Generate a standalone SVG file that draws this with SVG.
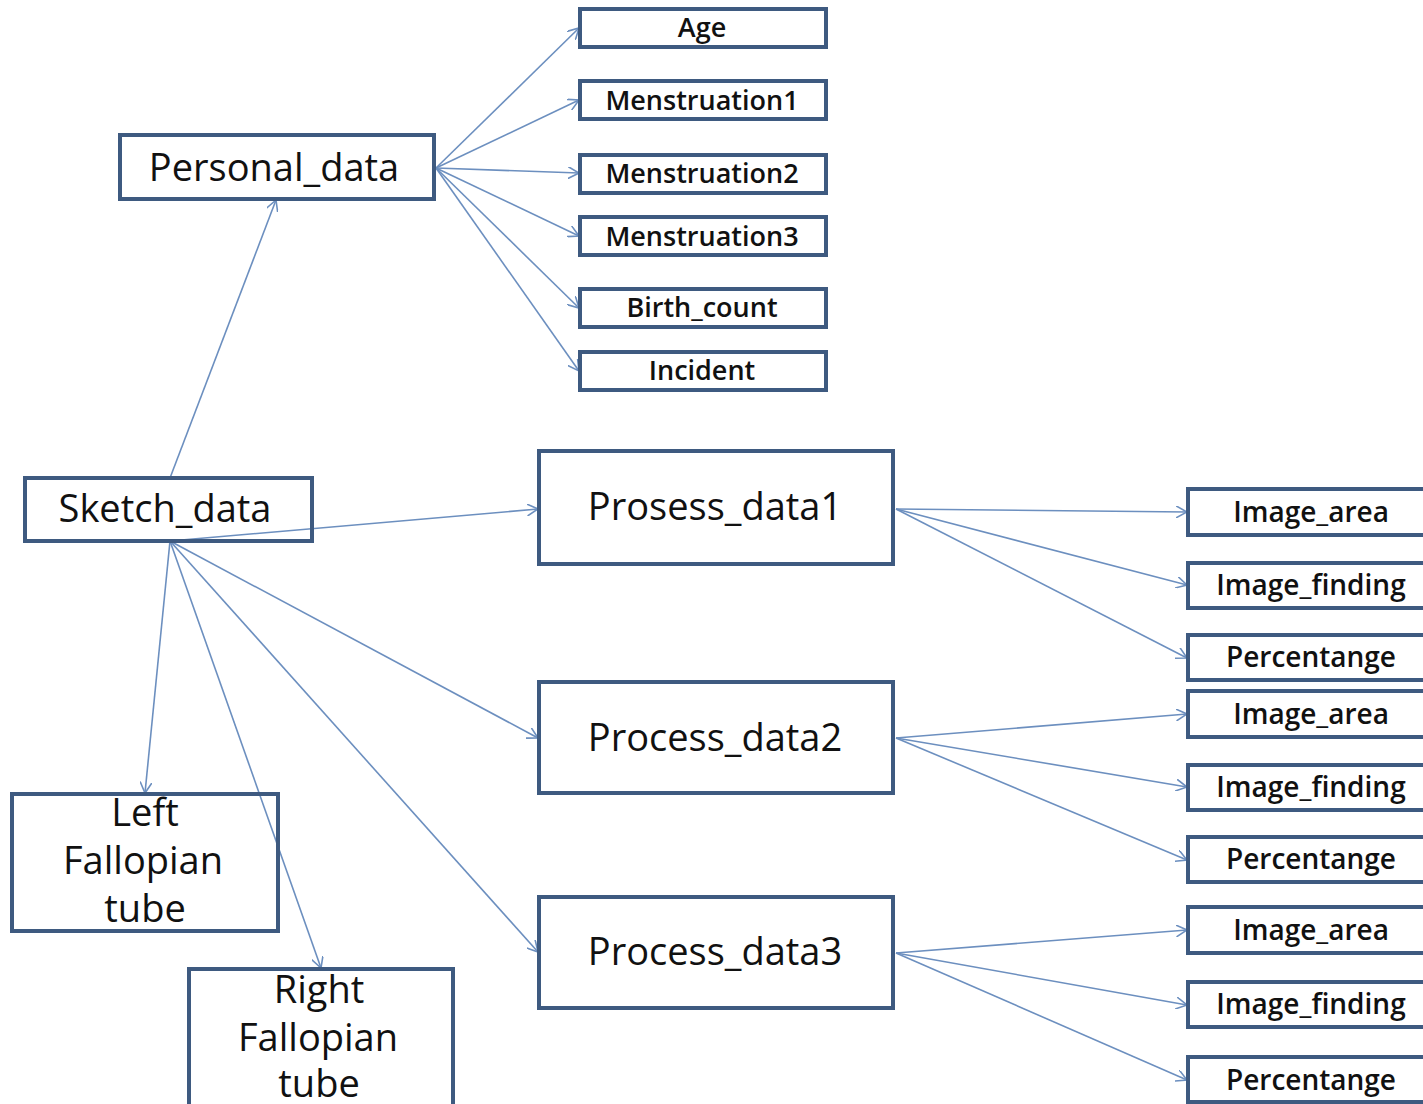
<svg xmlns="http://www.w3.org/2000/svg" width="1423" height="1104" viewBox="0 0 1423 1104">
<defs>
<style>
.box{fill:#fff;stroke:#3e5a80;stroke-width:4}
.big{font-family:"Open Sans","Liberation Sans",sans-serif;font-size:38px;fill:#111;text-anchor:middle}
.sm{font-family:"Open Sans","Liberation Sans",sans-serif;font-size:27px;font-weight:600;fill:#111;text-anchor:middle}
.sr{font-size:28px}
.ln{stroke:#6c8fbf;stroke-width:1.6;fill:none;marker-end:url(#ah)}
</style>
<marker id="ah" viewBox="0 0 12 12" refX="11" refY="6" markerWidth="12" markerHeight="12" markerUnits="userSpaceOnUse" orient="auto">
<path d="M0,0 L11,6 L0,12" fill="none" stroke="#6c8fbf" stroke-width="1.6"/>
</marker>
</defs>
<rect width="1423" height="1104" fill="#fff"/>
<g id="connectors">
<line class="ln" x1="170" y1="478" x2="276" y2="200"/>
<line class="ln" x1="436" y1="168" x2="579" y2="28"/>
<line class="ln" x1="436" y1="168" x2="579" y2="100"/>
<line class="ln" x1="436" y1="168" x2="579" y2="173"/>
<line class="ln" x1="436" y1="168" x2="579" y2="236"/>
<line class="ln" x1="436" y1="168" x2="579" y2="308"/>
<line class="ln" x1="436" y1="168" x2="579" y2="371"/>
<line class="ln" x1="170" y1="541" x2="538" y2="509"/>
<line class="ln" x1="170" y1="541" x2="538" y2="738"/>
<line class="ln" x1="170" y1="541" x2="538" y2="952"/>
<line class="ln" x1="170" y1="541" x2="145" y2="793"/>
<line class="ln" x1="170" y1="541" x2="321" y2="968"/>
<line class="ln" x1="896" y1="509" x2="1187" y2="512"/>
<line class="ln" x1="896" y1="509" x2="1187" y2="585"/>
<line class="ln" x1="896" y1="509" x2="1187" y2="658"/>
<line class="ln" x1="896" y1="738" x2="1187" y2="714"/>
<line class="ln" x1="896" y1="738" x2="1187" y2="787"/>
<line class="ln" x1="896" y1="738" x2="1187" y2="860"/>
<line class="ln" x1="896" y1="953" x2="1187" y2="930"/>
<line class="ln" x1="896" y1="953" x2="1187" y2="1005"/>
<line class="ln" x1="896" y1="953" x2="1187" y2="1080"/>
</g>
<g id="personal_data"><rect class="box" x="120" y="135" width="314" height="64"/><text class="big" x="274" y="181">Personal_data</text></g>
<g id="age"><rect class="box" x="580" y="9" width="246" height="38"/><text class="sm" x="702" y="37">Age</text></g>
<g id="menstruation1"><rect class="box" x="580" y="81" width="246" height="38"/><text class="sm" x="702" y="110">Menstruation1</text></g>
<g id="menstruation2"><rect class="box" x="580" y="155" width="246" height="38"/><text class="sm" x="702" y="183">Menstruation2</text></g>
<g id="menstruation3"><rect class="box" x="580" y="217" width="246" height="38"/><text class="sm" x="702" y="246">Menstruation3</text></g>
<g id="birth_count"><rect class="box" x="580" y="289" width="246" height="38"/><text class="sm" x="702" y="317">Birth_count</text></g>
<g id="incident"><rect class="box" x="580" y="352" width="246" height="38"/><text class="sm" x="702" y="380">Incident</text></g>
<g id="sketch_data"><rect class="box" x="25" y="478" width="287" height="63" fill-opacity="0"/><text class="big" x="165" y="522">Sketch_data</text></g>
<g id="prosess_data1"><rect class="box" x="539" y="451" width="354" height="113"/><text class="big" x="715" y="520">Prosess_data1</text></g>
<g id="process_data2"><rect class="box" x="539" y="682" width="354" height="111"/><text class="big" x="715" y="751">Process_data2</text></g>
<g id="process_data3"><rect class="box" x="539" y="897" width="354" height="111"/><text class="big" x="715" y="965">Process_data3</text></g>
<g id="left_fallopian"><rect class="box" x="12" y="794" width="266" height="137" fill-opacity="0"/><text class="big" x="145" y="826">Left</text><text class="big" x="143" y="874">Fallopian</text><text class="big" x="145" y="922">tube</text></g>
<g id="right_fallopian"><rect class="box" x="189" y="969" width="264" height="150"/><text class="big" x="319" y="1003">Right</text><text class="big" x="318" y="1051">Fallopian</text><text class="big" x="319" y="1097">tube</text></g>
<g id="image_area1"><rect class="box" x="1188" y="489" width="250" height="46"/><text class="sm sr" x="1311" y="522">Image_area</text></g>
<g id="image_finding1"><rect class="box" x="1188" y="563" width="250" height="45"/><text class="sm sr" x="1311" y="595">Image_finding</text></g>
<g id="percentange1"><rect class="box" x="1188" y="635" width="250" height="45"/><text class="sm sr" x="1311" y="667">Percentange</text></g>
<g id="image_area2"><rect class="box" x="1188" y="691" width="250" height="46"/><text class="sm sr" x="1311" y="724">Image_area</text></g>
<g id="image_finding2"><rect class="box" x="1188" y="765" width="250" height="45"/><text class="sm sr" x="1311" y="797">Image_finding</text></g>
<g id="percentange2"><rect class="box" x="1188" y="837" width="250" height="45"/><text class="sm sr" x="1311" y="869">Percentange</text></g>
<g id="image_area3"><rect class="box" x="1188" y="907" width="250" height="46"/><text class="sm sr" x="1311" y="940">Image_area</text></g>
<g id="image_finding3"><rect class="box" x="1188" y="982" width="250" height="45"/><text class="sm sr" x="1311" y="1014">Image_finding</text></g>
<g id="percentange3"><rect class="box" x="1188" y="1057" width="250" height="45"/><text class="sm sr" x="1311" y="1090">Percentange</text></g>
</svg>
